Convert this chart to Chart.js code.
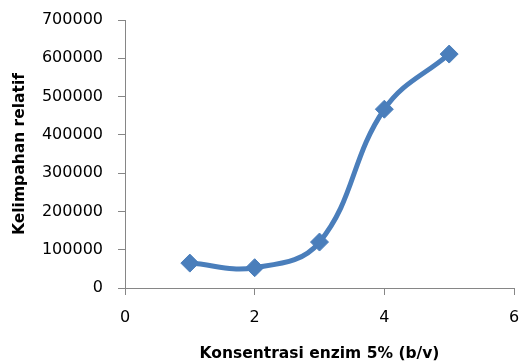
<!DOCTYPE html>
<html>
<head>
<meta charset="utf-8">
<script src="https://cdn.jsdelivr.net/npm/chart.js@4/dist/chart.umd.min.js"></script>
<style>
  html, body { margin: 0; padding: 0; background: #fff; }
  #wrap { width: 521px; height: 363px; position: relative; }
</style>
</head>
<body>
<div id="wrap"><canvas id="c"></canvas></div>
<script>
// Enzyme concentration (% b/v) vs relative abundance
const concentrations = [1, 2, 3, 4, 5];
const abundance = [65000, 53000, 120000, 467000, 611000];
const xTickValues = [0, 2, 4, 6];
const yTickValues = [0, 100000, 200000, 300000, 400000, 500000, 600000, 700000];
const xTitle = 'Konsentrasi enzim 5% (b/v)';
const yTitle = 'Kelimpahan relatif';

const points = concentrations.map((x, i) => ({ x: x, y: abundance[i] }));
const axisColor = '#868686';
const seriesColor = '#4a7ebb';
const tickFont = { family: 'DejaVu Sans', size: 16 };
const titleFont = { family: 'DejaVu Sans', size: 15.5, weight: 'bold' };

// fixed box sizes so the plot area sits where intended
function fixBox(size, dim) {
  return s => {
    s[dim] = size;
    s.paddingLeft = 0; s.paddingRight = 0; s.paddingTop = 0; s.paddingBottom = 0;
  };
}

new Chart(document.getElementById('c'), {
  type: 'line',
  data: {
    datasets: [{
      data: points,
      borderColor: seriesColor,
      backgroundColor: seriesColor,
      borderWidth: 5,
      tension: 0.4,
      pointStyle: 'rectRot',
      pointRadius: 9,
      pointBorderWidth: 1,
      pointBackgroundColor: seriesColor,
      pointBorderColor: seriesColor,
      fill: false
    }]
  },
  options: {
    responsive: true,
    maintainAspectRatio: false,
    animation: false,
    layout: { autoPadding: false, padding: { top: 20, right: 7, bottom: 0, left: 0 } },
    plugins: { legend: { display: false }, tooltip: { enabled: false } },
    scales: {
      x: {
        type: 'linear',
        min: xTickValues[0],
        max: xTickValues[xTickValues.length - 1],
        afterBuildTicks: s => { s.ticks = xTickValues.map(v => ({ value: v })); },
        ticks: { font: tickFont, color: '#000', padding: 13, maxRotation: 0, callback: v => String(v) },
        grid: { drawOnChartArea: false, tickLength: 7, color: axisColor, lineWidth: 1 },
        border: { color: axisColor, width: 1 },
        title: { display: true, text: xTitle, font: titleFont, color: '#000', padding: { top: 4, bottom: 0 } },
        afterFit: fixBox(75, 'height')
      },
      y: {
        type: 'linear',
        min: yTickValues[0],
        max: yTickValues[yTickValues.length - 1],
        afterBuildTicks: s => { s.ticks = yTickValues.map(v => ({ value: v })); },
        ticks: { font: tickFont, color: '#000', padding: 15, callback: v => String(v) },
        grid: { drawOnChartArea: false, tickLength: 7, color: axisColor, lineWidth: 1 },
        border: { color: axisColor, width: 1 },
        title: { display: true, text: yTitle, font: titleFont, color: '#000', padding: { top: 11, bottom: 0 } },
        afterFit: fixBox(125, 'width')
      }
    }
  }
});
</script>
</body>
</html>
